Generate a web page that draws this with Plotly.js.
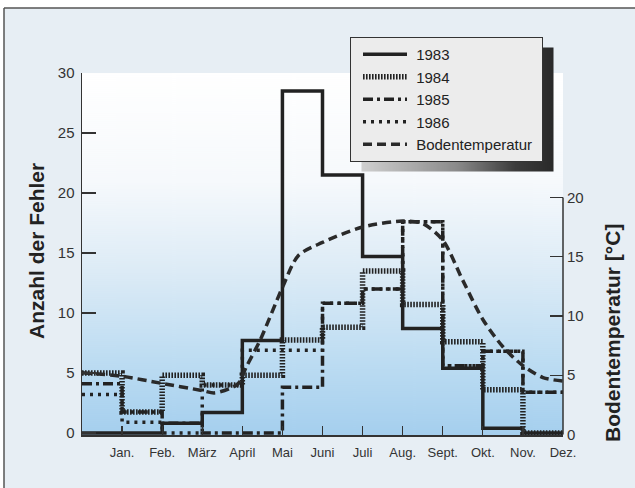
<!DOCTYPE html>
<html><head><meta charset="utf-8">
<script src="https://cdn.plot.ly/plotly-3.0.1.min.js"></script>
<style>html,body{margin:0;padding:0;background:#fff}#chart{width:635px;height:488px}</style>
</head><body><div id="chart"></div>
<script>
// ---- data ----
const months = ["Jan.","Feb.","März","April","Mai","Juni","Juli","Aug.","Sept.","Okt.","Nov.","Dez."];
const monthTicks = [1,2,3,4,5,6,7,8,9,10,11,12];
const binEdges = [0,1,2,3,4,5,6,7,8,9,10,11,12];
const faults1983 = [0, 0, 0.8, 1.7, 7.7, 28.5, 21.5, 14.7, 8.7, 5.4, 0.4, 0];
const faults1984 = [5.0, 1.75, 4.8, 4.0, 4.8, 7.75, 8.8, 13.5, 10.7, 7.6, 3.6, 0];
const faults1985 = [4.1, 1.75, 0.8, 0, 0, 3.8, 10.8, 12.0, 17.6, 5.6, 6.8, 3.4];
const faults1986 = [3.2, 0.9, 0, 4.0, 6.9, 6.9, 10.8, 12.0, 17.6, 5.6, 6.8, 3.4];
const soilX = [0,1,2,3,3.3,3.7,3.9,4.1,4.45,5,5.4,6,7,8,8.5,9,9.5,10,10.5,11,11.5,12];
const soilT = [5.2,4.9,4.3,3.7,3.5,3.9,4.3,5.7,8.0,12.4,15.1,16.2,17.5,18.0,17.8,16.4,13.0,9.7,7.4,5.8,4.8,4.5];
const leftTicks = [0,5,10,15,20,25,30];
const rightTicks = [0,5,10,15,20];

// ---- layout geometry ----
const W=635,H=488,L=82,R=72,T=73,B=53;
const pw=W-L-R, ph=H-T-B;
const px2x = p => (p-L)/pw;
const py2y = p => (H-B-p)/ph;
const FONT = "Liberation Sans, Arial, Helvetica, sans-serif";
const INK = "#222";
const NB = "\u00A0";

function stepY(v){ return v.concat([v[v.length-1]]); }

function gradientURL(){
  const c=document.createElement('canvas'); c.width=8; c.height=362;
  const g=c.getContext('2d'); const lg=g.createLinearGradient(0,0,0,362);
  lg.addColorStop(0,'#ffffff'); lg.addColorStop(0.3,'#f6f9fc');
  lg.addColorStop(0.55,'#dcebf6'); lg.addColorStop(0.8,'#bcdcf2'); lg.addColorStop(1,'#a5cfee');
  g.fillStyle=lg; g.fillRect(0,0,8,362); return c.toDataURL();
}
function shadowURL(){
  const c=document.createElement('canvas'); c.width=200; c.height=130;
  const g=c.getContext('2d'); const lg=g.createLinearGradient(0,0,200,0);
  lg.addColorStop(0,'#d0d0d0'); lg.addColorStop(0.5,'#8a8a8a'); lg.addColorStop(0.8,'#3c3c3c'); lg.addColorStop(1,'#2a2a2a');
  g.fillStyle=lg; g.fillRect(0,0,200,130); return c.toDataURL();
}

const traces = [
  {name:NB+'1984', x:binEdges, y:stepY(faults1984), legendrank:2, mode:'lines',
   line:{shape:'hv', color:INK, width:5.5, dash:'1.6px,1.4px'}},
  {name:NB+'1985', x:binEdges, y:stepY(faults1985), legendrank:3, mode:'lines',
   line:{shape:'hv', color:INK, width:3.5, dash:'10px,4px,3px,4px'}},
  {name:NB+'1986', x:binEdges, y:stepY(faults1986), legendrank:4, mode:'lines',
   line:{shape:'hv', color:INK, width:3.5, dash:'3px,5px'}},
  {name:NB+'1983', x:binEdges, y:stepY(faults1983), legendrank:1, mode:'lines',
   line:{shape:'hv', color:INK, width:3.5}},
  {name:NB+'Bodentemperatur'+NB, x:soilX, y:soilT, yaxis:'y2', legendrank:5, mode:'lines',
   line:{shape:'spline', smoothing:0.8, color:'#2a2a2a', width:3.5, dash:'9px,5px'}}
];
traces.forEach(t=>{t.cliponaxis=false; t.hoverinfo='skip';});

const layout = {
  width:W, height:H, margin:{l:L,r:R,t:T,b:B},
  paper_bgcolor:'#e7eef4', plot_bgcolor:'rgba(0,0,0,0)',
  font:{family:FONT, color:'#333'},
  showlegend:true,
  legend:{x:px2x(350), y:py2y(37), xanchor:'left', yanchor:'top',
    bgcolor:'#ececec', bordercolor:'#333', borderwidth:1, indentation:7,
    font:{family:FONT, size:15, color:INK}, tracegroupgap:0, itemwidth:44},
  xaxis:{range:[0,12], tickvals:monthTicks, ticktext:months, ticks:'inside', ticklen:9,
    tickcolor:'#333', tickwidth:1.2, showline:true, linecolor:'#333', linewidth:1.5,
    showgrid:false, zeroline:false, tickfont:{size:13, color:'#333'}, ticklabelstandoff:5},
  yaxis:{range:[-0.17,30], tickvals:leftTicks, ticks:'inside', ticklen:14, tickcolor:'#333',
    tickwidth:1.2, showline:true, linecolor:'#333', linewidth:1.5, showgrid:false, zeroline:false,
    tickfont:{size:15, color:'#333'}, ticklabelstandoff:3},
  yaxis2:{overlaying:'y', side:'right', range:[-0.05,30.5], tickvals:rightTicks, ticks:'inside',
    ticklen:13, tickcolor:'#333', tickwidth:1.2, showline:false, showgrid:false, zeroline:false,
    tickfont:{size:15, color:'#333'}, ticklabelstandoff:3},
  images:[
    {source:gradientURL(), xref:'paper', yref:'paper', x:0, y:1, sizex:1, sizey:1,
     xanchor:'left', yanchor:'top', sizing:'stretch', layer:'below'},
    {source:shadowURL(), xref:'paper', yref:'paper', x:px2x(360), y:py2y(47),
     sizex:194/pw, sizey:126/ph, xanchor:'left', yanchor:'top', sizing:'stretch', layer:'above'}
  ],
  shapes:[
    {type:'rect', xref:'paper', yref:'paper', x0:px2x(0), x1:px2x(W), y0:py2y(0), y1:py2y(8),
     fillcolor:'#ffffff', line:{width:0}, layer:'below'},
    {type:'rect', xref:'paper', yref:'paper', x0:px2x(0), x1:px2x(4), y0:py2y(0), y1:py2y(H),
     fillcolor:'#ffffff', line:{width:0}, layer:'below'},
    {type:'line', xref:'paper', yref:'paper', x0:px2x(4), x1:px2x(W), y0:py2y(8), y1:py2y(8),
     line:{color:'#555', width:1.5}},
    {type:'line', xref:'paper', yref:'paper', x0:px2x(4), x1:px2x(4), y0:py2y(8), y1:py2y(H),
     line:{color:'#555', width:1.5}},
    {type:'line', xref:'paper', yref:'y2', x0:1, x1:1, y0:rightTicks[0], y1:rightTicks[rightTicks.length-1],
     line:{color:'#333', width:1.5}}
  ],
  annotations:[
    {text:'<b>Anzahl der Fehler</b>', xref:'paper', yref:'paper', x:px2x(36), y:py2y(251),
     xanchor:'center', yanchor:'middle',
     textangle:-90, showarrow:false, font:{family:FONT, size:21, color:INK}},
    {text:'<b>Bodentemperatur [°C]</b>', xref:'paper', yref:'paper', x:px2x(612), y:py2y(333),
     xanchor:'center', yanchor:'middle',
     textangle:-90, showarrow:false, font:{family:FONT, size:21, color:INK}}
  ]
};
Plotly.newPlot('chart', traces, layout, {staticPlot:true, displayModeBar:false}).then(gd=>{
  // size the drop shadow to the rendered legend box
  const bg = gd.querySelector('.legend .bg');
  if(!bg) return;
  const r = bg.getBoundingClientRect(), c = gd.getBoundingClientRect();
  const lx = r.left-c.left, ty = r.top-c.top, w = r.width, h = r.height;
  return Plotly.relayout(gd, {
    'images[1].x': px2x(lx+11), 'images[1].y': py2y(ty+10),
    'images[1].sizex': w/pw, 'images[1].sizey': h/ph
  });
});
</script></body></html>
